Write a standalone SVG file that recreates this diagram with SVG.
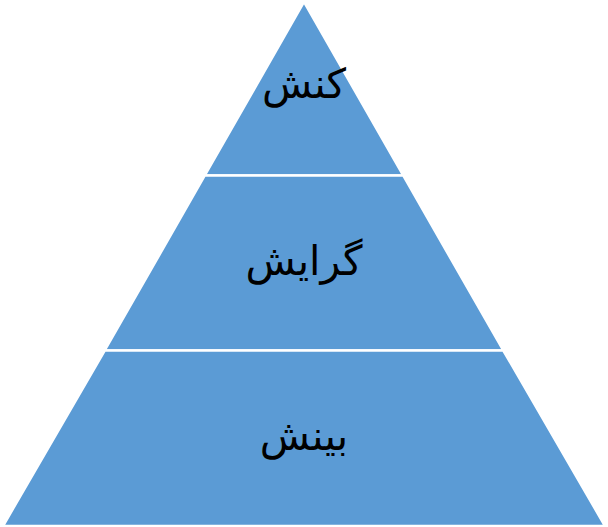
<svg xmlns="http://www.w3.org/2000/svg" width="608" height="527" viewBox="0 0 608 527">
<style>
.layer{fill:#5B9BD5;stroke:#FFFFFF;stroke-width:2.5}
.lbl{font-family:"DejaVu Sans","Noto Sans",sans-serif;font-size:41px;fill:#000000;text-anchor:middle}
</style>
<rect width="608" height="527" fill="#FFFFFF"/>
<g id="top">
<polygon class="layer" points="304,2 204.8,175.5 403.2,175.5"/>
<text class="lbl" x="304" y="98" direction="rtl">کنش</text>
</g>
<g id="middle">
<polygon class="layer" points="204.8,175.5 403.2,175.5 503.3,350.5 104.7,350.5"/>
<text class="lbl" x="304" y="275" direction="rtl">گرایش</text>
</g>
<g id="bottom">
<polygon class="layer" points="104.7,350.5 503.3,350.5 605,526 3,526"/>
<text class="lbl" x="304" y="450" direction="rtl">بینش</text>
</g>
<g id="connectors"/>
</svg>
